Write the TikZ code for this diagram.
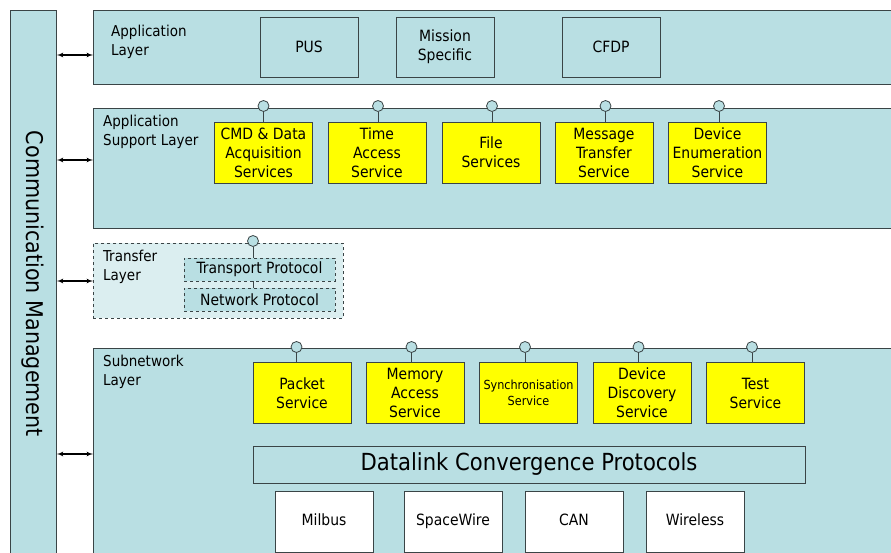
\documentclass[tikz,border=0pt]{standalone}
\usepackage{fontspec}
\setmainfont{DejaVu Sans Condensed}
\usetikzlibrary{arrows}
\definecolor{layerfill}{HTML}{B9DFE3}
\definecolor{transfill}{HTML}{DBEEF0}
\definecolor{linegray}{HTML}{3A4446}
\definecolor{svcyellow}{HTML}{FFFF00}

\begin{document}
\begin{tikzpicture}[x=1pt,y=-1pt]

\tikzset{layer/.style = {shape=rectangle,draw=linegray,fill=layerfill,line width=0.9pt,anchor=north west,inner sep=0pt}}
\tikzset{lname/.style = {anchor=north west,align=left,inner sep=0pt,font=\fontsize{15}{19}\selectfont}}
\tikzset{appbox/.style = {shape=rectangle,draw=linegray,fill=layerfill,line width=0.9pt,minimum width=98pt,minimum height=60pt,align=center,inner sep=1pt,font=\fontsize{15.5}{19}\selectfont}}
\tikzset{service/.style = {appbox,fill=svcyellow,minimum height=61pt}}
\tikzset{phy/.style = {appbox,fill=white,minimum height=61pt,text height=1.1em,text depth=0.25em}}
\tikzset{proto/.style = {shape=rectangle,draw=linegray,fill=layerfill,dashed,line width=0.8pt,minimum width=151pt,minimum height=23pt,inner sep=0pt,font=\fontsize{15.5}{16}\selectfont}}
\tikzset{port/.style = {shape=circle,draw=linegray,fill=layerfill,line width=0.8pt,minimum size=11pt,inner sep=0pt}}
\tikzset{edge/.style = {draw=linegray,line width=0.9pt}}
\tikzset{link/.style = {<->,> = latex',line width=1.2pt}}

\useasboundingbox (0,0) rectangle (891,553);

%layers
\node[layer,minimum width=46pt,minimum height=560pt] (comm) at (10,10) {};
\node[rotate=-90,font=\fontsize{23}{26}\selectfont] (commtext) at (33,284) {Communication Management};
\node[layer,minimum width=820pt,minimum height=74pt] (applayer) at (93,10) {};
\node[layer,minimum width=820pt,minimum height=120pt] (suplayer) at (93,108) {};
\node[layer,fill=transfill,dashed,minimum width=250pt,minimum height=75pt] (trlayer) at (93,243) {};
\node[layer,minimum width=820pt,minimum height=220pt] (sublayer) at (93,348) {};

\node[lname] (appname) at (111,25) {Application\\Layer};
\node[lname] (supname) at (103,115) {Application\\Support Layer};
\node[lname] (trname) at (103,250) {Transfer\\Layer};
\node[lname] (subname) at (103,355) {Subnetwork\\Layer};

%application layer
\node[appbox] (pus) at (309,47) {PUS};
\node[appbox] (mission) at (445,47) {Mission\\Specific};
\node[appbox] (cfdp) at (611,47) {CFDP};

%application support layer
\node[service] (cmd) at (263.5,152.5) {CMD \& Data\\Acquisition\\Services};
\node[service] (time) at (377,152.5) {Time\\Access\\Service};
\node[service] (file) at (491,152.5) {File\\Services};
\node[service] (msg) at (604,152.5) {Message\\Transfer\\Service};
\node[service] (denum) at (717.5,152.5) {Device\\Enumeration\\Service};

%transfer layer
\node[proto] (tp) at (259.5,269.5) {Transport Protocol};
\node[proto] (np) at (259.5,299.5) {Network Protocol};

%subnetwork layer
\node[service] (packet) at (302,393) {Packet\\Service};
\node[service] (memory) at (415,393) {Memory\\Access\\Service};
\node[service,font=\fontsize{12.5}{16}\selectfont] (sync) at (528.5,393) {Synchronisation\\Service};
\node[service] (ddisc) at (642,393) {Device\\Discovery\\Service};
\node[service] (test) at (755.5,393) {Test\\Service};
\node[appbox,minimum width=552pt,minimum height=37pt,font=\fontsize{23.5}{26}\selectfont] (dlc) at (529,464.5) {Datalink Convergence Protocols};
\node[phy] (milbus) at (324,521.5) {Milbus};
\node[phy] (spw) at (453,521.5) {SpaceWire};
\node[phy] (can) at (574,521.5) {CAN};
\node[phy] (wireless) at (695,521.5) {Wireless};

%ports
\node[port] (pcmd) at (263.5,106) {};
\node[port] (ptime) at (378,106) {};
\node[port] (pfile) at (492,106) {};
\node[port] (pmsg) at (605.5,106) {};
\node[port] (pdenum) at (719,106) {};
\node[port] (ptr) at (253,241) {};
\node[port] (ppacket) at (296.5,347) {};
\node[port] (pmemory) at (411.5,347) {};
\node[port] (psync) at (525,347) {};
\node[port] (pddisc) at (638.5,347) {};
\node[port] (ptest) at (752,347) {};

%edges
\draw[edge] (pcmd) to (pcmd |- cmd.north);
\draw[edge] (ptime) to (ptime |- time.north);
\draw[edge] (pfile) to (pfile |- file.north);
\draw[edge] (pmsg) to (pmsg |- msg.north);
\draw[edge] (pdenum) to (pdenum |- denum.north);
\draw[edge] (ptr) to (ptr |- tp.north);
\draw[edge] (ptr |- tp.south) to (ptr |- np.north);
\draw[edge] (ppacket) to (ppacket |- packet.north);
\draw[edge] (pmemory) to (pmemory |- memory.north);
\draw[edge] (psync) to (psync |- sync.north);
\draw[edge] (pddisc) to (pddisc |- ddisc.north);
\draw[edge] (ptest) to (ptest |- test.north);

\draw[link] (comm.east |- 0,55) to (applayer.west |- 0,55);
\draw[link] (comm.east |- 0,160) to (suplayer.west |- 0,160);
\draw[link] (comm.east |- 0,281) to (trlayer.west |- 0,281);
\draw[link] (comm.east |- 0,454) to (sublayer.west |- 0,454);
\end{tikzpicture}
\end{document}
